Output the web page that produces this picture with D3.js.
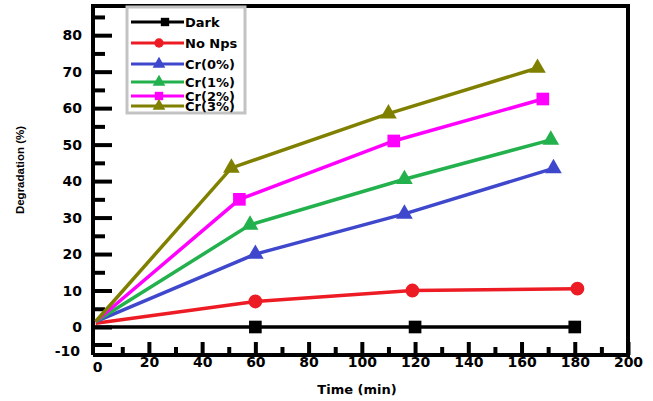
<!DOCTYPE html>
<html>
<head>
<meta charset="utf-8">
<script src="https://cdn.jsdelivr.net/npm/d3@7"></script>
<style>
  body { margin: 0; background: #fff; }
  text { font-family: "DejaVu Sans", Verdana, sans-serif; font-weight: bold; }
</style>
</head>
<body>
<div id="chart"></div>
<script>
// series
var seriesNames = ["Dark", "No Nps", "Cr(0%)", "Cr(1%)", "Cr(2%)", "Cr(3%)"];
var seriesColors = ["#000000", "#ed1c24", "#3f48cc", "#22b14c", "#ff00ff", "#808000"];
var seriesSymbols = ["square", "circle", "triangle", "triangle", "square", "triangle"];

var darkTime = [0, 60, 120, 180];
var darkDeg = [0, 0, 0, 0];
var noNpsTime = [0, 60, 119, 181];
var noNpsDeg = [1, 7, 10, 10.5];
var cr0Time = [0, 60, 116, 172];
var cr0Deg = [1.5, 20, 31, 43.5];
var cr1Time = [0, 58, 116, 171];
var cr1Deg = [1.5, 28, 40.5, 51.3];
var cr2Time = [0, 54, 112, 168];
var cr2Deg = [1.5, 35, 51, 62.5];
var cr3Time = [0, 51, 110, 166];
var cr3Deg = [1.5, 43.6, 58.5, 71];

var xTicks = [0, 20, 40, 60, 80, 100, 120, 140, 160, 180, 200];
var yTicks = [-10, 0, 10, 20, 30, 40, 50, 60, 70, 80];

var allTime = [darkTime, noNpsTime, cr0Time, cr1Time, cr2Time, cr3Time];
var allDeg = [darkDeg, noNpsDeg, cr0Deg, cr1Deg, cr2Deg, cr3Deg];

var width = 653, height = 401;
var plotLeft = 93, plotRight = 628, plotTop = 6, plotBottom = 355;

var svg = d3.select("#chart")
  .append("svg")
    .attr("width", width)
    .attr("height", height);

var x = d3.scaleLinear()
  .domain([-1, 200])
  .range([plotLeft, plotRight]);

// the picture's y axis is squeezed below zero
var y = d3.scaleLinear()
  .domain([-16, 0, 88])
  .range([plotBottom, 327, plotTop]);

// minor ticks
svg.append("g")
  .attr("transform", "translate(0," + plotBottom + ")")
  .call(d3.axisTop(x).tickValues(d3.range(10, 200, 20)).tickSize(8).tickFormat(""))
  .call(g => g.select(".domain").remove())
  .call(g => g.selectAll("line").attr("stroke-width", 4));

svg.append("g")
  .attr("transform", "translate(" + plotLeft + ",0)")
  .call(d3.axisRight(y).tickValues(d3.range(5, 90, 10)).tickSize(12).tickFormat(""))
  .call(g => g.select(".domain").remove())
  .call(g => g.selectAll("line").attr("stroke-width", 4));

// X axis
svg.append("g")
  .attr("transform", "translate(0," + plotBottom + ")")
  .call(d3.axisTop(x).tickValues(xTicks.slice(1)).tickSize(13).tickPadding(-25))
  .call(g => g.select(".domain").remove())
  .call(g => g.selectAll("line").attr("stroke-width", 4))
  .call(g => g.selectAll("text").attr("font-size", 14).attr("fill", "#000"));

svg.append("text")
  .attr("x", x(0) + 2)
  .attr("y", plotBottom + 17)
  .attr("font-size", 14)
  .style("text-anchor", "middle")
  .text(xTicks[0]);

// Y axis
svg.append("g")
  .attr("transform", "translate(" + plotLeft + ",0)")
  .call(d3.axisRight(y).tickValues(yTicks).tickSize(19).tickPadding(-30)
    .tickFormat(function (d) { return String(d); }))
  .call(g => g.select(".domain").remove())
  .call(g => g.selectAll("line").attr("stroke-width", 4))
  .call(g => g.selectAll("text").attr("font-size", 14).attr("fill", "#000")
    .style("text-anchor", "end"))
  .call(g => g.selectAll(".tick").filter(function (d) { return d < 0; })
    .select("text").attr("dy", "0.75em").attr("x", -13));

// frame
svg.append("path")
  .attr("d", "M" + plotLeft + "," + plotBottom + "V" + plotTop + "H" + plotRight + "V" + plotBottom + "H" + plotLeft)
  .attr("fill", "none")
  .attr("stroke", "black")
  .attr("stroke-width", 4);

// text label for the x axis
svg.append("text")
  .attr("x", 357)
  .attr("y", 394)
  .attr("font-size", 13)
  .style("text-anchor", "middle")
  .text("Time (min)");

// text label for the y axis
svg.append("text")
  .attr("transform", "translate(24,170) rotate(-90)")
  .attr("font-size", 11.5)
  .style("font-family", "'Liberation Sans Narrow', 'Liberation Sans', sans-serif")
  .style("text-anchor", "middle")
  .text("Degradation (%)");

var symbolTypes = { square: d3.symbolSquare, circle: d3.symbolCircle, triangle: d3.symbolTriangle };
var symbolSizes = { square: 160, circle: 150, triangle: 120 };

var line = d3.line()
  .x(function (d) { return x(d[0]); })
  .y(function (d) { return y(d[1]); });

for (let i = 0; i < seriesNames.length; i++)
{
  let pts = d3.zip(allTime[i], allDeg[i]);
  if (i == 0) pts[0] = [-1, allDeg[i][0]];

  svg.append("path")
    .datum(pts)
    .attr("fill", "none")
    .attr("stroke", seriesColors[i])
    .attr("stroke-width", 3.5)
    .attr("d", line);

  svg.append("g")
    .selectAll("path")
    .data(pts.slice(1))
    .enter()
    .append("path")
      .attr("transform", function (d) { return "translate(" + x(d[0]) + "," + y(d[1]) + ")"; })
      .attr("d", d3.symbol().type(symbolTypes[seriesSymbols[i]]).size(symbolSizes[seriesSymbols[i]]))
      .attr("fill", seriesColors[i]);
}

// legend
var legendRowY = [22, 43, 64, 82, 96, 106];
var legend = svg.append("g");

legend.append("rect")
  .attr("x", 127)
  .attr("y", 7)
  .attr("width", 118)
  .attr("height", 106)
  .attr("fill", "white")
  .attr("stroke", "#c3c3c3")
  .attr("stroke-width", 3);

for (let i = 0; i < seriesNames.length; i++)
{
  let ly = legendRowY[i];
  legend.append("line")
    .attr("x1", 131).attr("x2", 184)
    .attr("y1", ly).attr("y2", ly)
    .attr("stroke", seriesColors[i])
    .attr("stroke-width", 3);
  legend.append("path")
    .attr("transform", "translate(" + (i == 0 ? 165 : 159) + "," + ly + ")")
    .attr("d", d3.symbol().type(symbolTypes[seriesSymbols[i]]).size(70))
    .attr("fill", seriesColors[i]);
  legend.append("text")
    .attr("x", 185)
    .attr("y", ly + 5)
    .attr("font-size", 13)
    .text(seriesNames[i]);
}
</script>
</body>
</html>
